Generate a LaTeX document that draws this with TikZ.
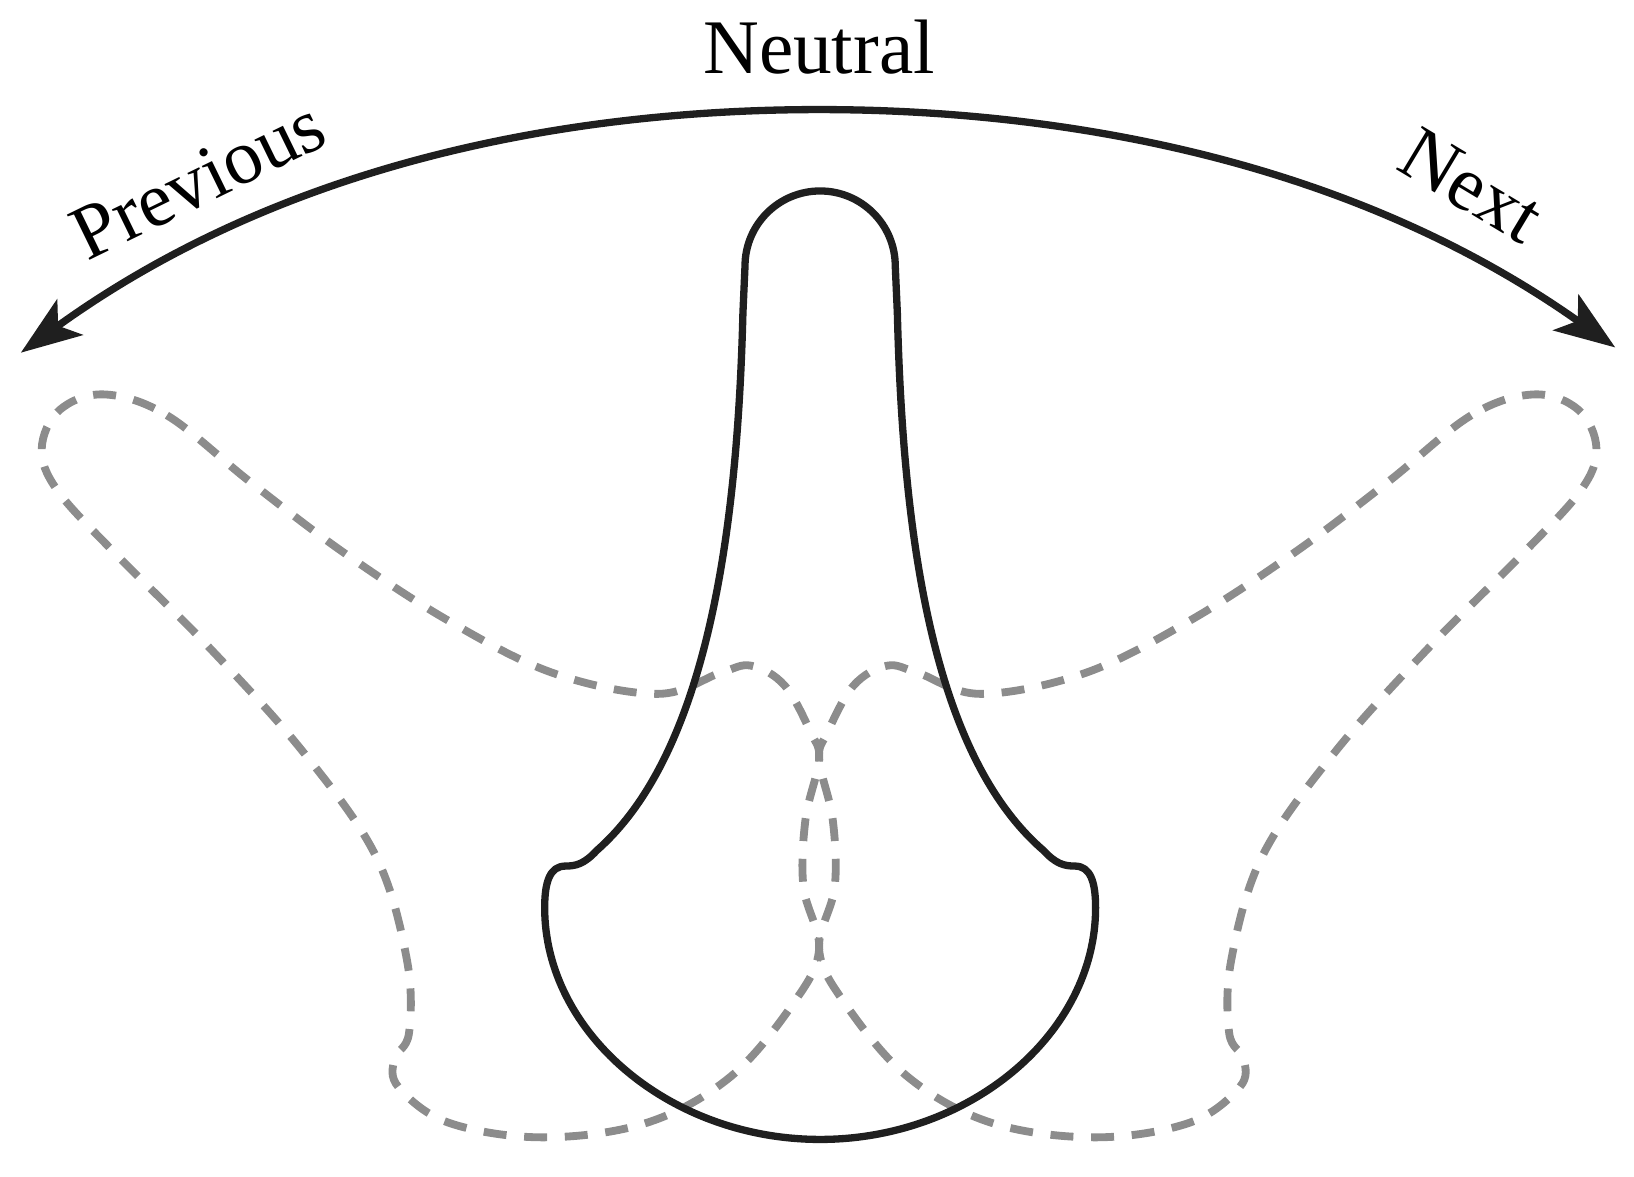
\documentclass[tikz,border=0pt]{standalone}
\usepackage{fontspec}
\setmainfont{Liberation Serif}
\usetikzlibrary{arrows.meta}
\begin{document}
\begin{tikzpicture}[x=1pt,y=-1pt,
  lbl/.style={font=\fontsize{74}{80}\selectfont, inner sep=0pt},
  ghost/.style={draw=black!45, line width=7.5pt, dash pattern=on 22pt off 17pt},
  bone/.style={draw=black!88, line width=7pt, line join=round},
  swing/.style={black!88, line width=7pt, {Stealth[length=58pt,width=42pt,inset=14pt]}-{Stealth[length=58pt,width=42pt,inset=14pt]}}]
\useasboundingbox (0,0) rectangle (1566,1128);
\coordinate (L) at (20,338);
\coordinate (T) at (785,105);
\coordinate (R) at (1548,333);
\draw[swing] (L) .. controls (280,150) and (560,105) .. (T) .. controls (1010,105) and (1290,150) .. (R);
\node[lbl] (neu) at (785,45) {Neutral};
\node[lbl, rotate=26] (prev) at (190,172) {Previous};
\node[lbl, rotate=-31] (next) at (1410,178) {Next};
% ghost shapes
\foreach \s in {1,-1}{
\begin{scope}[xshift=785pt, xscale=\s, xshift=-785pt]
\draw[ghost] plot[smooth cycle, tension=0.6] coordinates {
(100,378) (160,398) (240,462) (330,530) (430,595) (530,645) (630,665) (690,645) (720,638) (752,657) (777,702) (785,728) (772,785) (770,850) (785,910) (760,962) (700,1032) (620,1076) (520,1090) (430,1076) (382,1042) (378,1015) (392,990) (390,920) (360,820) (290,720) (200,620) (110,530) (55,470) (40,430) (57,393)};
\end{scope}}
% neutral bone
\draw[bone] (714,255) arc (180:360:72) -- (860,300)
 .. controls (865,500) and (890,720) .. (1000,815)
 .. controls (1012,828) and (1020,830) .. (1030,830)
 .. controls (1045,830) and (1050,845) .. (1050,870)
 .. controls (1050,990) and (930,1092) .. (786,1092)
 .. controls (642,1092) and (522,990) .. (522,870)
 .. controls (522,845) and (527,830) .. (542,830)
 .. controls (552,830) and (560,828) .. (572,815)
 .. controls (680,720) and (707,500) .. (712,300) -- cycle;
\end{tikzpicture}
\end{document}
